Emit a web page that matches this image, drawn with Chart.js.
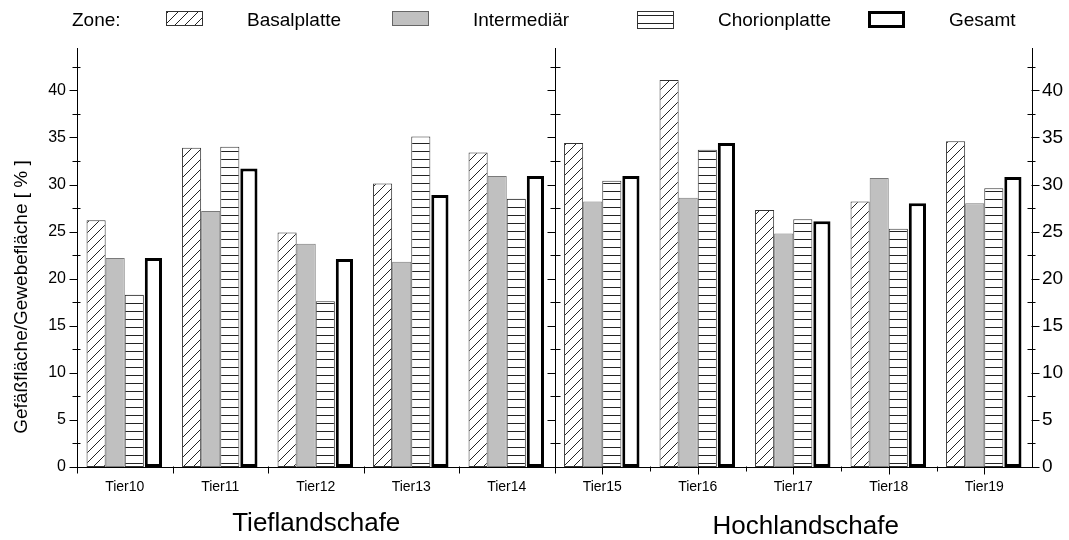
<!DOCTYPE html>
<html>
<head>
<meta charset="utf-8">
<script src="https://cdn.jsdelivr.net/npm/chart.js@4"></script>
<style>
  html, body { margin: 0; padding: 0; background: #fff; }
  #wrap { width: 1069px; height: 540px; }
</style>
</head>
<body>
<div id="wrap"><canvas id="chart"></canvas></div>
<script>
const categories = ['Tier10', 'Tier11', 'Tier12', 'Tier13', 'Tier14', 'Tier15', 'Tier16', 'Tier17', 'Tier18', 'Tier19'];
const basalplatte = [26.2, 33.9, 24.9, 30.1, 33.4, 34.4, 41.1, 27.3, 28.2, 34.6];
const intermediaer = [22.2, 27.2, 23.7, 21.8, 30.9, 28.2, 28.6, 24.8, 30.7, 28.0];
const chorionplatte = [18.3, 34.0, 17.6, 35.1, 28.5, 30.4, 33.7, 26.3, 25.3, 29.6];
const gesamt = [22.2, 31.7, 22.1, 28.9, 30.9, 30.9, 34.4, 26.1, 28.0, 30.8];
const yMajorTicks = [0, 5, 10, 15, 20, 25, 30, 35, 40];
const yMinorTicks = [2.5, 7.5, 12.5, 17.5, 22.5, 27.5, 32.5, 37.5, 42.5];
const groupTitles = ['Tieflandschafe', 'Hochlandschafe'];
const legendLabels = ['Basalplatte', 'Intermediär', 'Chorionplatte', 'Gesamt'];

const FONT = "'Liberation Sans', Arial, sans-serif";

// Schraffuren
function makePattern(kind) {
  const c = document.createElement('canvas');
  const g = c.getContext('2d');
  if (kind === 'diag') {
    c.width = 10; c.height = 10;
    g.fillStyle = '#fff'; g.fillRect(0, 0, 10, 10);
    g.strokeStyle = '#222'; g.lineWidth = 1;
    g.beginPath();
    g.moveTo(-1, 11); g.lineTo(11, -1);
    g.moveTo(-6, 6); g.lineTo(6, -6);
    g.moveTo(4, 16); g.lineTo(16, 4);
    g.stroke();
  } else {
    c.width = 8; c.height = 8;
    g.fillStyle = '#fff'; g.fillRect(0, 0, 8, 8);
    g.fillStyle = '#222'; g.fillRect(0, 7, 8, 1);
  }
  return g.createPattern(c, 'repeat');
}
const diagFill = makePattern('diag');
const horizFill = makePattern('horiz');

const overlay = {
  id: 'overlay',
  afterDraw(chart) {
    const ctx = chart.ctx;
    const x = chart.scales.x, y = chart.scales.y;
    const area = chart.chartArea;
    ctx.save();
    ctx.strokeStyle = '#000';
    ctx.lineWidth = 1;
    const midX = Math.round(x.getPixelForValue(4.5)) + 0.5;
    const L = Math.round(area.left) + 0.5, R = Math.round(area.right) - 0.5;
    ctx.beginPath();
    // Mittelachse
    ctx.moveTo(midX, area.top); ctx.lineTo(midX, area.bottom);
    yMajorTicks.forEach(v => {
      const py = Math.round(y.getPixelForValue(v)) + 0.5;
      ctx.moveTo(L - 8, py); ctx.lineTo(L, py);
      ctx.moveTo(midX - 8, py); ctx.lineTo(midX, py);
      ctx.moveTo(R, py); ctx.lineTo(R + 8, py);
    });
    yMinorTicks.forEach(v => {
      const py = Math.round(y.getPixelForValue(v)) + 0.5;
      ctx.moveTo(L - 5, py); ctx.lineTo(L + 3, py);
      ctx.moveTo(midX - 5, py); ctx.lineTo(midX + 5, py);
      ctx.moveTo(R - 4, py); ctx.lineTo(R + 4, py);
    });
    // x-Ticks
    const by = Math.round(area.bottom) - 0.5;
    for (let i = 0; i <= 5; i++) {
      const px = Math.round(x.getPixelForValue(i - 0.5)) + 0.5;
      ctx.moveTo(px, by); ctx.lineTo(px, by + 7);
    }
    for (let i = 5; i < 10; i++) {
      const pc = Math.round(x.getPixelForValue(i)) + 0.5;
      ctx.moveTo(pc, by); ctx.lineTo(pc, by + 8);
      const pb = Math.round(x.getPixelForValue(i + 0.5)) + 0.5;
      if (i < 9) { ctx.moveTo(pb, by); ctx.lineTo(pb, by + 5); }
    }
    ctx.stroke();

    // Gruppentitel
    ctx.fillStyle = '#000';
    ctx.font = '26px ' + FONT;
    ctx.textAlign = 'center';
    ctx.textBaseline = 'alphabetic';
    ctx.fillText(groupTitles[0], (area.left + midX) / 2, 531);
    ctx.fillText(groupTitles[1], (midX + area.right) / 2 + 12, 534);

    // y-Titel
    ctx.save();
    ctx.translate(22, 297);
    ctx.rotate(-Math.PI / 2);
    ctx.font = '19px ' + FONT;
    ctx.textBaseline = 'middle';
    ctx.fillText('Gefäßfläche/Gewebefläche [ % ]', 0, 0);
    ctx.restore();

    // Legende
    ctx.font = '19px ' + FONT;
    ctx.textAlign = 'left';
    ctx.textBaseline = 'middle';
    ctx.fillText('Zone:', 72, 21);
    const boxes = [
      { x: 166, h: 15, fill: diagFill, stroke: '#333', lw: 1, tx: 247 },
      { x: 392, h: 15, fill: '#c0c0c0', stroke: '#666', lw: 1, tx: 473 },
      { x: 637, h: 18, fill: horizFill, stroke: '#333', lw: 1, tx: 718 },
      { x: 868, h: 17, fill: '#fff', stroke: '#000', lw: 3, tx: 949 }
    ];
    boxes.forEach((b, i) => {
      const inset = b.lw / 2;
      ctx.fillStyle = b.fill;
      ctx.fillRect(b.x, 11, 37, b.h);
      ctx.lineWidth = b.lw;
      ctx.strokeStyle = b.stroke;
      ctx.strokeRect(b.x + inset, 11 + inset, 37 - b.lw, b.h - b.lw);
      ctx.fillStyle = '#000';
      ctx.fillText(legendLabels[i], b.tx, 21);
    });
    ctx.restore();
  }
};

const barBase = { borderSkipped: false, categoryPercentage: 0.8, barPercentage: 1.0 };

new Chart(document.getElementById('chart'), {
  type: 'bar',
  data: {
    labels: categories,
    datasets: [
      Object.assign({ label: legendLabels[0], data: basalplatte, backgroundColor: diagFill, borderColor: '#333', borderWidth: 1 }, barBase),
      Object.assign({ label: legendLabels[1], data: intermediaer, backgroundColor: '#c0c0c0', borderColor: '#7a7a7a', borderWidth: 1 }, barBase),
      Object.assign({ label: legendLabels[2], data: chorionplatte, backgroundColor: horizFill, borderColor: '#333', borderWidth: 1 }, barBase),
      Object.assign({ label: legendLabels[3], data: gesamt, backgroundColor: '#fff', borderColor: '#000', borderWidth: 3 }, barBase, { barPercentage: 0.9 })
    ]
  },
  options: {
    responsive: true,
    maintainAspectRatio: false,
    animation: false,
    layout: { padding: { top: 48, left: 0, right: 0, bottom: 0 } },
    plugins: { legend: { display: false }, tooltip: { enabled: false } },
    scales: {
      x: {
        type: 'category',
        offset: true,
        grid: { display: false, drawTicks: false },
        border: { display: true, color: '#000', width: 1 },
        ticks: { color: '#000', padding: 12, maxRotation: 0, autoSkip: false, font: { family: FONT, size: 14 } },
        afterFit(s) { s.height = 73; }
      },
      y: {
        position: 'left',
        min: 0, max: 44.5,
        grid: { display: false, drawTicks: false },
        border: { display: true, color: '#000', width: 1 },
        ticks: { color: '#000', padding: 11, font: { family: FONT, size: 16 } },
        afterBuildTicks(s) { s.ticks = yMajorTicks.map(v => ({ value: v })); },
        afterFit(s) { s.width = 77; }
      },
      y2: {
        position: 'right',
        min: 0, max: 44.5,
        grid: { display: false, drawTicks: false },
        border: { display: true, color: '#000', width: 1 },
        ticks: { color: '#000', padding: 10, font: { family: FONT, size: 19 } },
        afterBuildTicks(s) { s.ticks = yMajorTicks.map(v => ({ value: v })); },
        afterFit(s) { s.width = 37; }
      }
    }
  },
  plugins: [overlay]
});
</script>
</body>
</html>
